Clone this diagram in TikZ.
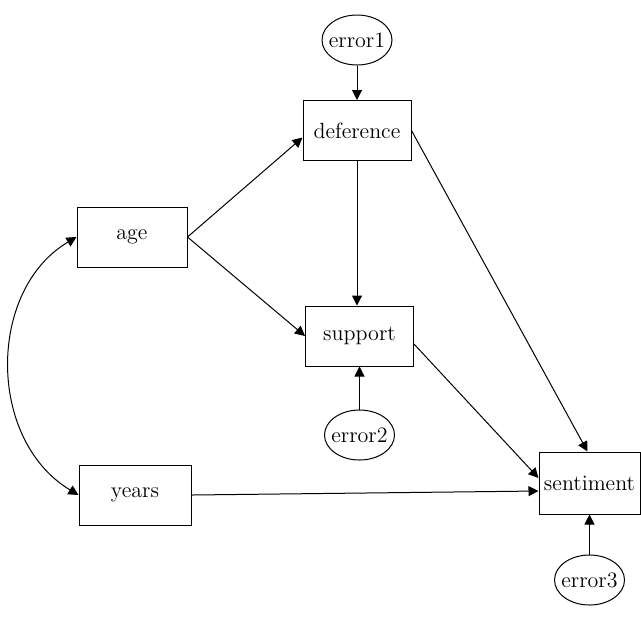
\documentclass[tikz,border=0pt]{standalone}
\usepackage{tikz}
\usetikzlibrary{positioning,shapes.geometric,arrows.meta}

\begin{document}
\begin{tikzpicture}[x=0.5pt, y=-0.5pt,
  every node/.style={font=\fontsize{11}{13}\selectfont},
  obs/.style={draw, line width=0.5pt, minimum width=54pt, minimum height=30pt, inner sep=2pt},
  err/.style={draw, ellipse, line width=0.5pt, minimum width=35pt, minimum height=25pt,
              inner xsep=-2pt, inner ysep=0pt},
  path/.style={line width=0.5pt, -{Triangle[length=5pt,width=5pt]}},
  cov/.style={line width=0.5pt, {Triangle[length=5pt,width=5pt]}-{Triangle[length=5pt,width=5pt]}}
]
  \useasboundingbox (0,0) rectangle (641,618);

  \node[err] (e1) at (357,40) {error1};
  \node[obs] (def) at (357,130.5) {deference};
  \node[obs, minimum width=55pt] (age) at (132,237) {age};
  \node[obs] (sup) at (359.5,336) {support};
  \node[err] (e2) at (359.5,435) {error2};
  \node[obs, minimum width=56pt] (yrs) at (135,495) {years};
  \node[obs, minimum width=50.5pt, minimum height=31pt] (sent) at (589.5,483) {sentiment};
  \node[err] (e3) at (589.5,580) {error3};

  \draw[path] (e1) -- (def);
  \draw[path] (age.east) -- ([yshift=-3.5pt]def.west);
  \draw[path] (age.east) -- (sup.west);
  \draw[path] (def.south) -- (def.south |- sup.north);
  \draw[path] (e2) -- (sup);
  \draw[path] (def.east) -- ([xshift=-1pt]sent.north);
  \draw[path] ([yshift=-4pt]sup.east) -- ([yshift=2.5pt]sent.west);
  \draw[path] (yrs.east) -- ([yshift=-4pt]sent.west);
  \draw[path] (e3) -- (sent);
  \draw[cov] (age.west) .. controls (-13,290) and (-13,440) .. (yrs.west);
\end{tikzpicture}
\end{document}
